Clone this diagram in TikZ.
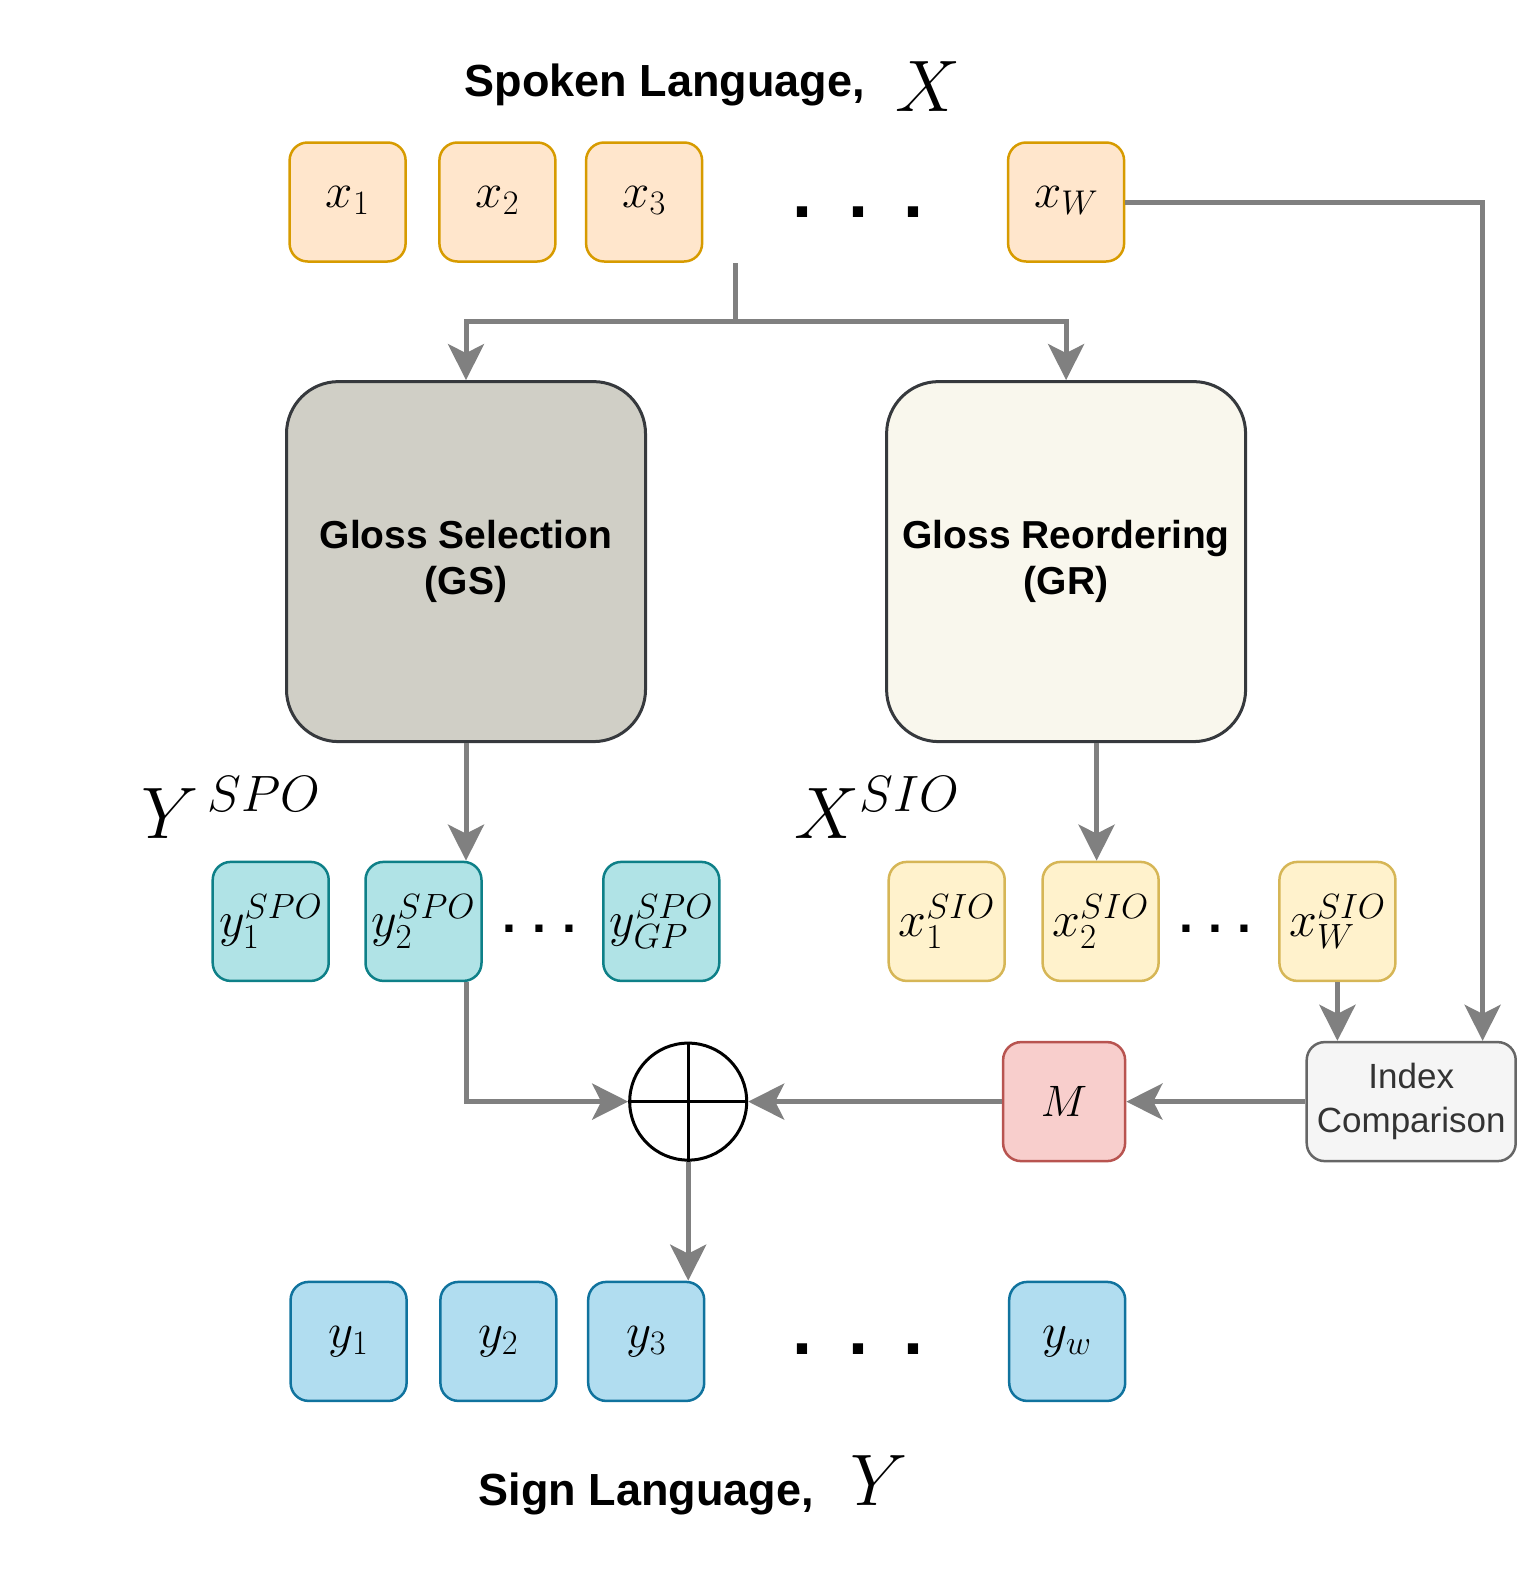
\RequirePackage{fix-cm}
\documentclass[tikz,border=0pt]{standalone}
\usepackage{fontspec}
\setsansfont{Liberation Sans}
\usetikzlibrary{arrows.meta}
\definecolor{xfill}{HTML}{FFE6CC}\definecolor{xdraw}{HTML}{D79B00}
\definecolor{spfill}{HTML}{B0E3E6}\definecolor{spdraw}{HTML}{0E8088}
\definecolor{sifill}{HTML}{FFF2CC}\definecolor{sidraw}{HTML}{D6B656}
\definecolor{yfill}{HTML}{B1DDF0}\definecolor{ydraw}{HTML}{10739E}
\definecolor{mfill}{HTML}{F8CECC}\definecolor{mdraw}{HTML}{B85450}
\definecolor{icfill}{HTML}{F5F5F5}\definecolor{icdraw}{HTML}{666666}\definecolor{ictext}{HTML}{333333}
\definecolor{gsfill}{HTML}{D0CFC6}\definecolor{grfill}{HTML}{F9F7ED}\definecolor{gdraw}{HTML}{36393D}
\definecolor{arrgray}{HTML}{808080}
\begin{document}
\begin{tikzpicture}[x=1pt,y=-1pt,
  tok/.style={rounded corners=18pt, minimum width=116pt, minimum height=119pt, line width=2.5pt, inner sep=0pt},
  xin/.style={tok, fill=xfill, draw=xdraw, text height=11pt, text depth=0pt, font=\fontsize{49}{58}\selectfont},
  spo/.style={tok, fill=spfill, draw=spdraw, font=\fontsize{50}{60}\selectfont},
  sio/.style={tok, fill=sifill, draw=sidraw, font=\fontsize{50}{60}\selectfont},
  yout/.style={tok, fill=yfill, draw=ydraw, text height=12pt, text depth=0pt, font=\fontsize{49}{58}\selectfont},
  bigbox/.style={rounded corners=52pt, minimum width=359pt, minimum height=360pt, line width=3pt, draw=gdraw, align=center, font=\sffamily\bfseries\fontsize{39}{46.6}\selectfont},
  title/.style={anchor=base west, inner sep=0pt, font=\sffamily\bfseries\fontsize{45}{54}\selectfont},
  bigmath/.style={anchor=base west, inner sep=0pt, font=\fontsize{73}{86}\selectfont},
  bigdot/.style={inner sep=0pt, font=\sffamily\bfseries\fontsize{72}{86}\selectfont},
  smalldot/.style={inner sep=0pt, font=\sffamily\bfseries\fontsize{50}{60}\selectfont},
  conn/.style={draw=arrgray, line width=5pt},
  arr/.style={conn, -{Stealth[length=36pt,width=36pt,inset=9pt]}}
]
\useasboundingbox (0,0) rectangle (1518,1587);

% titles
\node[title] (t1) at (464.5,96.1) {Spoken Language,};
\node[bigmath] (tX) at (895.6,111) {$X$};
\node[title] (t2) at (478.7,1505.9) {Sign Language,};
\node[bigmath] (tY) at (850,1505.9) {$Y$};

% input tokens
\node[xin] (x1) at (347.6,202) {$x_1$};
\node[xin] (x2) at (497.4,202) {$x_2$};
\node[xin] (x3) at (644.1,202) {$x_3$};
\node[xin] (xw) at (1066.1,202) {$x_W$};
\node[bigdot] (d1) at (802.5,212.5) {.};
\node[bigdot] (d2) at (858.2,212.5) {.};
\node[bigdot] (d3) at (913.8,212.5) {.};

% modules
\node[bigbox, fill=gsfill] (gs) at (466,561.6) {Gloss Selection\\(GS)};
\node[bigbox, fill=grfill] (gr) at (1066.1,561.6) {Gloss Reordering\\(GR)};

% labels
\node[bigmath] (lY) at (141.7,838) {$Y^{\,SPO}$};
\node[bigmath] (lX) at (794.4,838) {$X^{SIO}$};

% SPO tokens
\node[spo] (y1s) at (270.7,921.4) {$y_1^{SPO}$};
\node[spo] (y2s) at (423.5,921.4) {$y_2^{SPO}$};
\node[spo] (ygs) at (661.3,921.4) {$y_{GP}^{SPO}$};
\node[smalldot] (e1) at (509,929) {.};
\node[smalldot] (e2) at (539.4,929) {.};
\node[smalldot] (e3) at (569.8,929) {.};

% SIO tokens
\node[sio] (x1s) at (946.7,921.4) {$x_1^{SIO}$};
\node[sio] (x2s) at (1100.6,921.4) {$x_2^{SIO}$};
\node[sio] (xws) at (1337.4,921.4) {$x_W^{SIO}$};
\node[smalldot] (f1) at (1186,929) {.};
\node[smalldot] (f2) at (1215.4,929) {.};
\node[smalldot] (f3) at (1244.8,929) {.};

% combination row
\node[circle, draw=black, line width=3pt, fill=white, minimum size=117pt, inner sep=0pt] (circ) at (688.2,1101.6) {};
\draw[black, line width=3pt] (circ.north) -- (circ.south) (circ.west) -- (circ.east);
\node[tok, minimum width=122pt, fill=mfill, draw=mdraw, font=\fontsize{44}{52}\selectfont] (m) at (1064.1,1101.6) {$M$};
\node[tok, minimum width=209pt, fill=icfill, draw=icdraw, text=ictext, align=center, font=\sffamily\fontsize{35}{43.5}\selectfont] (ic) at (1411.2,1101.6) {Index\\Comparison};

% output tokens
\node[yout] (y1) at (348.6,1341.4) {$y_1$};
\node[yout] (y2) at (498.4,1341.4) {$y_2$};
\node[yout] (y3) at (646.2,1341.4) {$y_3$};
\node[yout] (yw) at (1067.2,1341.4) {$y_w$};
\node[bigdot] (g1) at (802.5,1349) {.};
\node[bigdot] (g2) at (858.2,1349) {.};
\node[bigdot] (g3) at (913.8,1349) {.};

% connectors
\coordinate (split) at (735.7,263);
\coordinate (junc) at (735.7,321.8);
\draw[arr] (split) -- (junc) -| (gs.north);
\draw[arr] (split) -- (junc) -| (gr.north);
\draw[arr] (gs.south) -- (gs.south |- y2s.north);
\draw[arr] ([xshift=-4pt]x2s.north |- gr.south) -- ([xshift=-4pt]x2s.north);
\draw[arr] (xw.east) -| ([xshift=71.4pt]ic.north);
\draw[arr] (xws.south) -- (xws.south |- ic.north);
\draw[arr] (gs.south |- y2s.south) |- (circ.west);
\draw[arr] (ic.west) -- (m.east);
\draw[arr] (m.west) -- (circ.east);
\draw[arr] (circ.south) -- (circ.south |- y3.north);
\end{tikzpicture}
\end{document}
